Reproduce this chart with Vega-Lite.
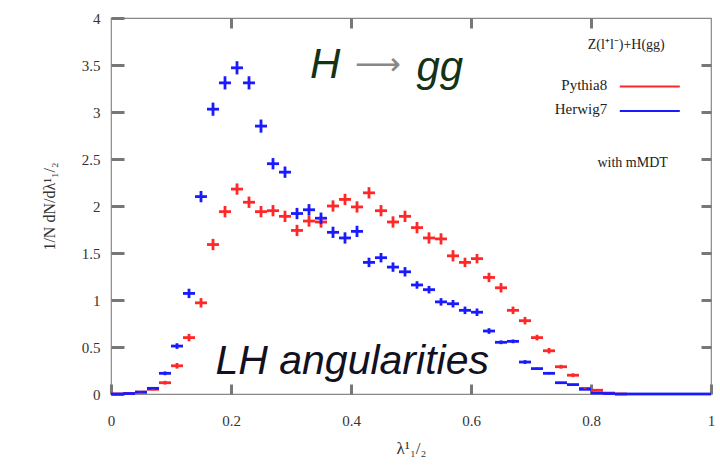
{
  "$schema": "https://vega.github.io/schema/vega-lite/v6.json",
  "width": 600,
  "height": 376,
  "autosize": {"type": "none"},
  "padding": {"left": 111, "top": 18, "right": 9, "bottom": 75},
  "background": "white",
  "config": {
    "view": {"stroke": "#888888", "strokeWidth": 1.2},
    "axis": {"grid": false, "domain": false, "labelFont": "Liberation Serif", "labelFontSize": 15, "labelColor": "#333333", "titleFont": "Liberation Serif", "titleFontWeight": "normal", "titleColor": "#333333"}
  },
  "datasets": {
    "h": [
      {"gen": "Pythia8", "x": 0.01, "x0": 0.0, "x1": 0.02, "y": 0.0, "lo": 0.0, "hi": 0.0},
      {"gen": "Pythia8", "x": 0.03, "x0": 0.02, "x1": 0.04, "y": 0.005, "lo": 0.005, "hi": 0.005},
      {"gen": "Pythia8", "x": 0.05, "x0": 0.04, "x1": 0.06, "y": 0.02, "lo": 0.015, "hi": 0.025},
      {"gen": "Pythia8", "x": 0.07, "x0": 0.06, "x1": 0.08, "y": 0.05, "lo": 0.04, "hi": 0.06},
      {"gen": "Pythia8", "x": 0.09, "x0": 0.08, "x1": 0.1, "y": 0.12, "lo": 0.1, "hi": 0.14},
      {"gen": "Pythia8", "x": 0.11, "x0": 0.1, "x1": 0.12, "y": 0.3, "lo": 0.27, "hi": 0.33},
      {"gen": "Pythia8", "x": 0.13, "x0": 0.12, "x1": 0.14, "y": 0.6, "lo": 0.56, "hi": 0.64},
      {"gen": "Pythia8", "x": 0.15, "x0": 0.14, "x1": 0.16, "y": 0.97, "lo": 0.92, "hi": 1.02},
      {"gen": "Pythia8", "x": 0.17, "x0": 0.16, "x1": 0.18, "y": 1.59, "lo": 1.53, "hi": 1.65},
      {"gen": "Pythia8", "x": 0.19, "x0": 0.18, "x1": 0.2, "y": 1.94, "lo": 1.88, "hi": 2.0},
      {"gen": "Pythia8", "x": 0.21, "x0": 0.2, "x1": 0.22, "y": 2.18, "lo": 2.12, "hi": 2.24},
      {"gen": "Pythia8", "x": 0.23, "x0": 0.22, "x1": 0.24, "y": 2.04, "lo": 1.98, "hi": 2.1},
      {"gen": "Pythia8", "x": 0.25, "x0": 0.24, "x1": 0.26, "y": 1.94, "lo": 1.88, "hi": 2.0},
      {"gen": "Pythia8", "x": 0.27, "x0": 0.26, "x1": 0.28, "y": 1.95, "lo": 1.89, "hi": 2.01},
      {"gen": "Pythia8", "x": 0.29, "x0": 0.28, "x1": 0.3, "y": 1.89, "lo": 1.83, "hi": 1.95},
      {"gen": "Pythia8", "x": 0.31, "x0": 0.3, "x1": 0.32, "y": 1.74, "lo": 1.68, "hi": 1.8},
      {"gen": "Pythia8", "x": 0.33, "x0": 0.32, "x1": 0.34, "y": 1.84, "lo": 1.78, "hi": 1.9},
      {"gen": "Pythia8", "x": 0.35, "x0": 0.34, "x1": 0.36, "y": 1.83, "lo": 1.77, "hi": 1.89},
      {"gen": "Pythia8", "x": 0.37, "x0": 0.36, "x1": 0.38, "y": 2.0, "lo": 1.94, "hi": 2.06},
      {"gen": "Pythia8", "x": 0.39, "x0": 0.38, "x1": 0.4, "y": 2.07, "lo": 2.01, "hi": 2.13},
      {"gen": "Pythia8", "x": 0.41, "x0": 0.4, "x1": 0.42, "y": 1.99, "lo": 1.93, "hi": 2.05},
      {"gen": "Pythia8", "x": 0.43, "x0": 0.42, "x1": 0.44, "y": 2.14, "lo": 2.08, "hi": 2.2},
      {"gen": "Pythia8", "x": 0.45, "x0": 0.44, "x1": 0.46, "y": 1.95, "lo": 1.89, "hi": 2.01},
      {"gen": "Pythia8", "x": 0.47, "x0": 0.46, "x1": 0.48, "y": 1.83, "lo": 1.77, "hi": 1.89},
      {"gen": "Pythia8", "x": 0.49, "x0": 0.48, "x1": 0.5, "y": 1.89, "lo": 1.83, "hi": 1.95},
      {"gen": "Pythia8", "x": 0.51, "x0": 0.5, "x1": 0.52, "y": 1.77, "lo": 1.71, "hi": 1.83},
      {"gen": "Pythia8", "x": 0.53, "x0": 0.52, "x1": 0.54, "y": 1.66, "lo": 1.6, "hi": 1.72},
      {"gen": "Pythia8", "x": 0.55, "x0": 0.54, "x1": 0.56, "y": 1.65, "lo": 1.59, "hi": 1.71},
      {"gen": "Pythia8", "x": 0.57, "x0": 0.56, "x1": 0.58, "y": 1.47, "lo": 1.41, "hi": 1.53},
      {"gen": "Pythia8", "x": 0.59, "x0": 0.58, "x1": 0.6, "y": 1.4, "lo": 1.35, "hi": 1.45},
      {"gen": "Pythia8", "x": 0.61, "x0": 0.6, "x1": 0.62, "y": 1.44, "lo": 1.39, "hi": 1.49},
      {"gen": "Pythia8", "x": 0.63, "x0": 0.62, "x1": 0.64, "y": 1.24, "lo": 1.19, "hi": 1.29},
      {"gen": "Pythia8", "x": 0.65, "x0": 0.64, "x1": 0.66, "y": 1.13, "lo": 1.08, "hi": 1.18},
      {"gen": "Pythia8", "x": 0.67, "x0": 0.66, "x1": 0.68, "y": 0.89, "lo": 0.85, "hi": 0.93},
      {"gen": "Pythia8", "x": 0.69, "x0": 0.68, "x1": 0.7, "y": 0.78, "lo": 0.74, "hi": 0.82},
      {"gen": "Pythia8", "x": 0.71, "x0": 0.7, "x1": 0.72, "y": 0.6, "lo": 0.57, "hi": 0.63},
      {"gen": "Pythia8", "x": 0.73, "x0": 0.72, "x1": 0.74, "y": 0.46, "lo": 0.43, "hi": 0.49},
      {"gen": "Pythia8", "x": 0.75, "x0": 0.74, "x1": 0.76, "y": 0.29, "lo": 0.27, "hi": 0.31},
      {"gen": "Pythia8", "x": 0.77, "x0": 0.76, "x1": 0.78, "y": 0.2, "lo": 0.18, "hi": 0.22},
      {"gen": "Pythia8", "x": 0.79, "x0": 0.78, "x1": 0.8, "y": 0.06, "lo": 0.05, "hi": 0.07},
      {"gen": "Pythia8", "x": 0.81, "x0": 0.8, "x1": 0.82, "y": 0.04, "lo": 0.035, "hi": 0.045},
      {"gen": "Pythia8", "x": 0.83, "x0": 0.82, "x1": 0.84, "y": 0.01, "lo": 0.01, "hi": 0.01},
      {"gen": "Pythia8", "x": 0.85, "x0": 0.84, "x1": 0.86, "y": 0.0, "lo": 0.0, "hi": 0.0},
      {"gen": "Herwig7", "x": 0.01, "x0": 0.0, "x1": 0.02, "y": 0.0, "lo": 0.0, "hi": 0.0},
      {"gen": "Herwig7", "x": 0.03, "x0": 0.02, "x1": 0.04, "y": 0.005, "lo": 0.005, "hi": 0.005},
      {"gen": "Herwig7", "x": 0.05, "x0": 0.04, "x1": 0.06, "y": 0.02, "lo": 0.015, "hi": 0.025},
      {"gen": "Herwig7", "x": 0.07, "x0": 0.06, "x1": 0.08, "y": 0.06, "lo": 0.05, "hi": 0.07},
      {"gen": "Herwig7", "x": 0.09, "x0": 0.08, "x1": 0.1, "y": 0.22, "lo": 0.2, "hi": 0.24},
      {"gen": "Herwig7", "x": 0.11, "x0": 0.1, "x1": 0.12, "y": 0.51, "lo": 0.48, "hi": 0.54},
      {"gen": "Herwig7", "x": 0.13, "x0": 0.12, "x1": 0.14, "y": 1.07, "lo": 1.02, "hi": 1.12},
      {"gen": "Herwig7", "x": 0.15, "x0": 0.14, "x1": 0.16, "y": 2.1, "lo": 2.04, "hi": 2.16},
      {"gen": "Herwig7", "x": 0.17, "x0": 0.16, "x1": 0.18, "y": 3.03, "lo": 2.96, "hi": 3.1},
      {"gen": "Herwig7", "x": 0.19, "x0": 0.18, "x1": 0.2, "y": 3.31, "lo": 3.24, "hi": 3.38},
      {"gen": "Herwig7", "x": 0.21, "x0": 0.2, "x1": 0.22, "y": 3.47, "lo": 3.4, "hi": 3.54},
      {"gen": "Herwig7", "x": 0.23, "x0": 0.22, "x1": 0.24, "y": 3.31, "lo": 3.24, "hi": 3.38},
      {"gen": "Herwig7", "x": 0.25, "x0": 0.24, "x1": 0.26, "y": 2.85, "lo": 2.78, "hi": 2.92},
      {"gen": "Herwig7", "x": 0.27, "x0": 0.26, "x1": 0.28, "y": 2.45, "lo": 2.39, "hi": 2.51},
      {"gen": "Herwig7", "x": 0.29, "x0": 0.28, "x1": 0.3, "y": 2.36, "lo": 2.3, "hi": 2.42},
      {"gen": "Herwig7", "x": 0.31, "x0": 0.3, "x1": 0.32, "y": 1.92, "lo": 1.86, "hi": 1.98},
      {"gen": "Herwig7", "x": 0.33, "x0": 0.32, "x1": 0.34, "y": 1.96, "lo": 1.9, "hi": 2.02},
      {"gen": "Herwig7", "x": 0.35, "x0": 0.34, "x1": 0.36, "y": 1.87, "lo": 1.81, "hi": 1.93},
      {"gen": "Herwig7", "x": 0.37, "x0": 0.36, "x1": 0.38, "y": 1.72, "lo": 1.66, "hi": 1.78},
      {"gen": "Herwig7", "x": 0.39, "x0": 0.38, "x1": 0.4, "y": 1.66, "lo": 1.6, "hi": 1.72},
      {"gen": "Herwig7", "x": 0.41, "x0": 0.4, "x1": 0.42, "y": 1.73, "lo": 1.67, "hi": 1.79},
      {"gen": "Herwig7", "x": 0.43, "x0": 0.42, "x1": 0.44, "y": 1.4, "lo": 1.35, "hi": 1.45},
      {"gen": "Herwig7", "x": 0.45, "x0": 0.44, "x1": 0.46, "y": 1.45, "lo": 1.4, "hi": 1.5},
      {"gen": "Herwig7", "x": 0.47, "x0": 0.46, "x1": 0.48, "y": 1.35, "lo": 1.3, "hi": 1.4},
      {"gen": "Herwig7", "x": 0.49, "x0": 0.48, "x1": 0.5, "y": 1.3, "lo": 1.25, "hi": 1.35},
      {"gen": "Herwig7", "x": 0.51, "x0": 0.5, "x1": 0.52, "y": 1.16, "lo": 1.12, "hi": 1.2},
      {"gen": "Herwig7", "x": 0.53, "x0": 0.52, "x1": 0.54, "y": 1.11, "lo": 1.07, "hi": 1.15},
      {"gen": "Herwig7", "x": 0.55, "x0": 0.54, "x1": 0.56, "y": 0.98, "lo": 0.94, "hi": 1.02},
      {"gen": "Herwig7", "x": 0.57, "x0": 0.56, "x1": 0.58, "y": 0.96, "lo": 0.92, "hi": 1.0},
      {"gen": "Herwig7", "x": 0.59, "x0": 0.58, "x1": 0.6, "y": 0.89, "lo": 0.85, "hi": 0.93},
      {"gen": "Herwig7", "x": 0.61, "x0": 0.6, "x1": 0.62, "y": 0.87, "lo": 0.83, "hi": 0.91},
      {"gen": "Herwig7", "x": 0.63, "x0": 0.62, "x1": 0.64, "y": 0.67, "lo": 0.64, "hi": 0.7},
      {"gen": "Herwig7", "x": 0.65, "x0": 0.64, "x1": 0.66, "y": 0.55, "lo": 0.53, "hi": 0.57},
      {"gen": "Herwig7", "x": 0.67, "x0": 0.66, "x1": 0.68, "y": 0.56, "lo": 0.54, "hi": 0.58},
      {"gen": "Herwig7", "x": 0.69, "x0": 0.68, "x1": 0.7, "y": 0.34, "lo": 0.32, "hi": 0.36},
      {"gen": "Herwig7", "x": 0.71, "x0": 0.7, "x1": 0.72, "y": 0.27, "lo": 0.26, "hi": 0.28},
      {"gen": "Herwig7", "x": 0.73, "x0": 0.72, "x1": 0.74, "y": 0.22, "lo": 0.21, "hi": 0.23},
      {"gen": "Herwig7", "x": 0.75, "x0": 0.74, "x1": 0.76, "y": 0.12, "lo": 0.115, "hi": 0.125},
      {"gen": "Herwig7", "x": 0.77, "x0": 0.76, "x1": 0.78, "y": 0.1, "lo": 0.095, "hi": 0.105},
      {"gen": "Herwig7", "x": 0.79, "x0": 0.78, "x1": 0.8, "y": 0.05, "lo": 0.045, "hi": 0.055},
      {"gen": "Herwig7", "x": 0.81, "x0": 0.8, "x1": 0.82, "y": 0.01, "lo": 0.01, "hi": 0.01},
      {"gen": "Herwig7", "x": 0.83, "x0": 0.82, "x1": 0.84, "y": 0.005, "lo": 0.005, "hi": 0.005},
      {"gen": "Herwig7", "x": 0.85, "x0": 0.84, "x1": 0.86, "y": 0.0, "lo": 0.0, "hi": 0.0},
      {"gen": "Herwig7", "x": 0.87, "x0": 0.86, "x1": 0.88, "y": 0.0, "lo": 0.0, "hi": 0.0},
      {"gen": "Herwig7", "x": 0.89, "x0": 0.88, "x1": 0.9, "y": 0.0, "lo": 0.0, "hi": 0.0},
      {"gen": "Herwig7", "x": 0.91, "x0": 0.9, "x1": 0.92, "y": 0.0, "lo": 0.0, "hi": 0.0},
      {"gen": "Herwig7", "x": 0.93, "x0": 0.92, "x1": 0.94, "y": 0.0, "lo": 0.0, "hi": 0.0},
      {"gen": "Herwig7", "x": 0.95, "x0": 0.94, "x1": 0.96, "y": 0.0, "lo": 0.0, "hi": 0.0},
      {"gen": "Herwig7", "x": 0.97, "x0": 0.96, "x1": 0.98, "y": 0.0, "lo": 0.0, "hi": 0.0},
      {"gen": "Herwig7", "x": 0.99, "x0": 0.98, "x1": 1.0, "y": 0.0, "lo": 0.0, "hi": 0.0}
    ],
    "leg": [
      {"gen": "Pythia8", "x0": 0.848, "x1": 0.948, "y": 3.27, "tx": 0.827, "ty": 3.29},
      {"gen": "Herwig7", "x0": 0.848, "x1": 0.948, "y": 3.01, "tx": 0.827, "ty": 3.03}
    ],
    "notes": [
      {"t": "Z(l⁺l⁻)+H(gg)", "x": 0.923, "y": 3.71},
      {"t": "with mMDT", "x": 0.928, "y": 2.46}
    ]
  },
  "layer": [
    {
      "data": {"name": "h"},
      "mark": {"type": "rule", "strokeWidth": 2.8},
      "encoding": {
        "x": {"field": "x0", "type": "quantitative", "scale": {"domain": [0, 1], "nice": false},
          "axis": {"title": "λ¹₁/₂", "titleFontSize": 17, "titlePadding": 12, "values": [0, 0.2, 0.4, 0.6, 0.8, 1], "format": "~g", "offset": -10, "ticks": true, "tickSize": 10, "tickColor": "#777777", "tickWidth": 3, "labelPadding": 19, "labelFlush": false}},
        "x2": {"field": "x1"},
        "y": {"field": "y", "type": "quantitative", "scale": {"domain": [0, 4], "nice": false},
          "axis": {"title": "1/N dN/dλ¹₁/₂", "titleFontSize": 16, "titlePadding": 24, "values": [0, 0.5, 1, 1.5, 2, 2.5, 3, 3.5, 4], "format": "~g", "offset": -13, "ticks": true, "tickSize": 13, "tickColor": "#777777", "tickWidth": 3, "labelPadding": 11}},
        "color": {"field": "gen", "type": "nominal", "scale": {"domain": ["Pythia8", "Herwig7"], "range": ["#ff2828", "#1a1aff"]}, "legend": null}
      }
    },
    {
      "data": {"values": [{"x": 0.5, "y": 2}]},
      "mark": {"type": "point", "opacity": 0},
      "encoding": {
        "x": {"field": "x", "type": "quantitative", "axis": {"orient": "top", "labels": false, "title": null, "values": [0.2, 0.4, 0.6, 0.8], "ticks": true, "tickSize": -10, "tickColor": "#777777", "tickWidth": 3}},
        "y": {"field": "y", "type": "quantitative", "axis": {"orient": "right", "labels": false, "title": null, "values": [0.5, 1, 1.5, 2, 2.5, 3, 3.5], "ticks": true, "tickSize": -10, "tickColor": "#777777", "tickWidth": 3}}
      }
    },
    {
      "data": {"name": "h"},
      "mark": {"type": "rule", "strokeWidth": 2.8},
      "encoding": {
        "x": {"field": "x", "type": "quantitative", "axis": null},
        "y": {"field": "lo", "type": "quantitative", "axis": null},
        "y2": {"field": "hi"},
        "color": {"field": "gen", "type": "nominal", "legend": null}
      }
    },
    {
      "data": {"name": "leg"},
      "mark": {"type": "rule", "strokeWidth": 2},
      "encoding": {
        "x": {"field": "x0", "type": "quantitative", "axis": null},
        "x2": {"field": "x1"},
        "y": {"field": "y", "type": "quantitative", "axis": null},
        "color": {"field": "gen", "type": "nominal", "legend": null}
      }
    },
    {
      "data": {"name": "leg"},
      "mark": {"type": "text", "align": "right", "baseline": "middle", "font": "Liberation Serif", "fontSize": 15, "color": "#222222"},
      "encoding": {
        "x": {"field": "tx", "type": "quantitative", "axis": null},
        "y": {"field": "ty", "type": "quantitative", "axis": null},
        "text": {"field": "gen"}
      }
    },
    {
      "data": {"name": "notes"},
      "mark": {"type": "text", "align": "right", "baseline": "middle", "font": "Liberation Serif", "fontSize": 14, "color": "#222222"},
      "encoding": {
        "x": {"field": "x", "type": "quantitative", "axis": null},
        "y": {"field": "y", "type": "quantitative", "axis": null},
        "text": {"field": "t"}
      }
    },
    {
      "data": {"values": [{"t": "LH angularities", "x": 0.402, "y": 0.34}]},
      "mark": {"type": "text", "align": "center", "baseline": "middle", "font": "Liberation Sans", "fontStyle": "italic", "fontSize": 41, "color": "#111122"},
      "encoding": {
        "x": {"field": "x", "type": "quantitative", "axis": null},
        "y": {"field": "y", "type": "quantitative", "axis": null},
        "text": {"field": "t"}
      }
    },
    {
      "data": {"values": [{"t": "H", "x": 0.357, "y": 3.5}, {"t": "gg", "x": 0.548, "y": 3.47}]},
      "mark": {"type": "text", "align": "center", "baseline": "middle", "font": "Liberation Sans", "fontStyle": "italic", "fontSize": 42, "color": "#143214"},
      "encoding": {
        "x": {"field": "x", "type": "quantitative", "axis": null},
        "y": {"field": "y", "type": "quantitative", "axis": null},
        "text": {"field": "t"}
      }
    },
    {
      "data": {"values": [{"t": "⟶", "x": 0.445, "y": 3.5}]},
      "mark": {"type": "text", "align": "center", "baseline": "middle", "font": "DejaVu Sans", "fontSize": 32, "color": "#888888"},
      "encoding": {
        "x": {"field": "x", "type": "quantitative", "axis": null},
        "y": {"field": "y", "type": "quantitative", "axis": null},
        "text": {"field": "t"}
      }
    }
  ],
  "resolve": {"axis": {"x": "independent", "y": "independent"}}
}
